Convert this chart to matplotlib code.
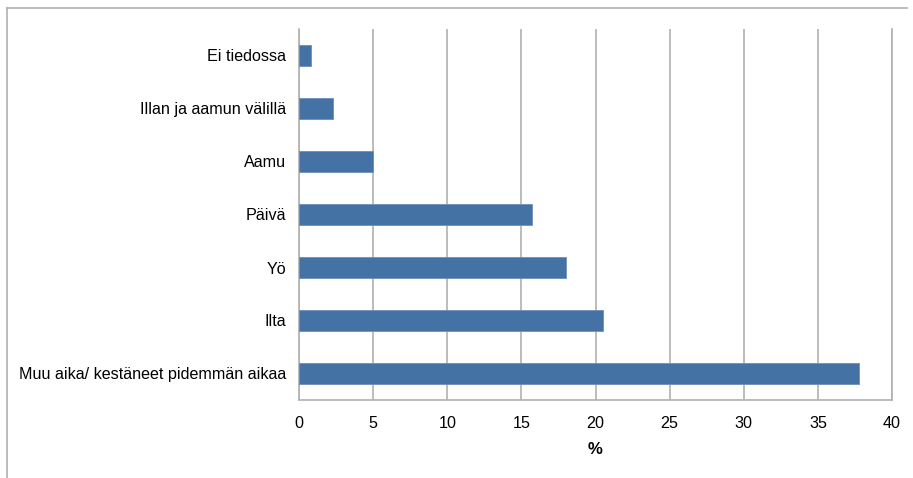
import matplotlib
matplotlib.use("Agg")
import matplotlib.pyplot as plt
from matplotlib.lines import Line2D

plt.rcParams['font.family'] = ['Liberation Sans', 'DejaVu Sans']

# data (top to bottom as shown)
categories = ['Ei tiedossa', 'Illan ja aamun välillä', 'Aamu', 'Päivä', 'Yö', 'Ilta',
              'Muu aika/ kestäneet pidemmän aikaa']
values = [0.8, 2.3, 5.0, 15.7, 18.0, 20.5, 37.8]
xticks = [0, 5, 10, 15, 20, 25, 30, 35, 40]

fig = plt.figure(figsize=(9.13, 4.78), dpi=100)
W, H = 913, 478
ax = fig.add_axes([299 / W, 1 - 400 / H, (892 - 299) / W, (400 - 29) / H])

pos = list(range(len(categories)))[::-1]
ax.barh(pos, values, height=0.4, color='#4472a4', edgecolor='#6d8fbb', linewidth=0.6, zorder=3)

fs = 11.6
ax.set_xlim(0, 40)
ax.set_ylim(-0.5, len(categories) - 0.5)
ax.set_xticks(xticks)
ax.set_xticklabels([str(t) for t in xticks], fontsize=fs)
ax.set_yticks(pos)
ax.set_yticklabels(categories, fontsize=fs)
ax.tick_params(axis='y', length=0, pad=9.4)
ax.tick_params(axis='x', length=0, pad=11.5)
ax.grid(axis='x', color='#b0b0b0', linewidth=1.2, zorder=0)
ax.set_xlabel('%', fontsize=fs + 0.5, fontweight='bold', labelpad=8)

for s in ['left', 'bottom', 'right']:
    ax.spines[s].set_color('#b0b0b0')
    ax.spines[s].set_linewidth(1.2)
ax.spines['top'].set_visible(False)

# outer chart border
fig.add_artist(Line2D([7 / W, 907 / W], [1 - 8 / H, 1 - 8 / H], color='#b0b0b0', lw=1.2))
fig.add_artist(Line2D([7 / W, 7 / W], [1 - 8 / H, 0], color='#b0b0b0', lw=1.2))

fig.savefig('out.png', dpi=100)
